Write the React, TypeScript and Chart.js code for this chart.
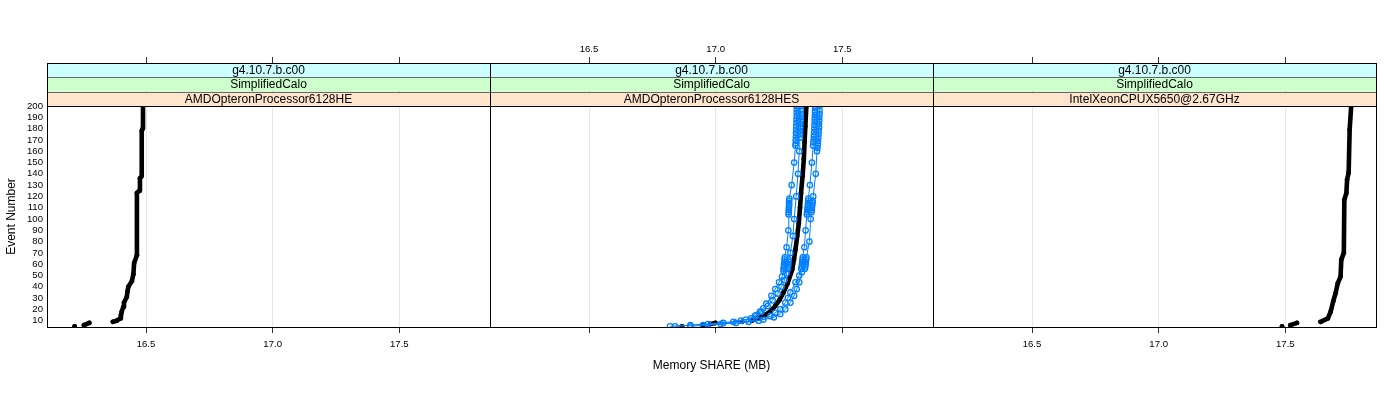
import React, { useEffect, useRef } from "react";
import { Chart, registerables } from "chart.js";

Chart.register(...registerables);

// ---------- data ----------
type Pt = [number, number]; // [event number, memory SHARE (MB)]

const STRIP_VERSION = ["g4.10.7.b.c00", "g4.10.7.b.c00", "g4.10.7.b.c00"];
const STRIP_TEST = ["SimplifiedCalo", "SimplifiedCalo", "SimplifiedCalo"];
const STRIP_CPU = [
  "AMDOpteronProcessor6128HE",
  "AMDOpteronProcessor6128HES",
  "IntelXeonCPUX5650@2.67GHz",
];

const X_TICKS = [16.5, 17.0, 17.5];
const Y_TICKS = [10, 20, 30, 40, 50, 60, 70, 80, 90, 100, 110, 120, 130, 140, 150, 160, 170, 180, 190, 200];
const X_MIN = 16.109;
const X_MAX = 17.858;
const Y_MIN = 4.4;
const Y_MAX = 200;

const X_TITLE = "Memory SHARE (MB)";
const Y_TITLE = "Event Number";

// Panel 1: AMDOpteronProcessor6128HE (reference, black)
const P1_BLACK: Pt[][] = [
  [[5, 16.218]],
  [[6, 16.255], [8, 16.276]],
  [
    [9, 16.369], [10, 16.385], [12, 16.398], [15, 16.401], [18, 16.404], [22, 16.41],
    [26, 16.413], [31, 16.424], [36, 16.427], [40, 16.43], [45, 16.444], [51, 16.45],
    [61, 16.453], [68, 16.464], [123, 16.464], [125, 16.474], [136, 16.476], [138, 16.483],
    [178, 16.483], [180, 16.487], [200, 16.488],
  ],
];

// Panel 2: AMDOpteronProcessor6128HES (black reference + blue runs)
const P2_BLACK: Pt[][] = [
  [[5, 16.867]],
  [[6, 16.95]],
  [[7, 16.979], [8, 16.999]],
  [[9, 17.104]],
  [
    [10, 17.143], [12, 17.165], [15, 17.195], [18, 17.215], [23, 17.235], [28, 17.251],
    [35, 17.268], [43, 17.284], [55, 17.302], [64, 17.309], [73, 17.315], [85, 17.322],
    [96, 17.328], [110, 17.333], [123, 17.337], [138, 17.343], [153, 17.348], [168, 17.351],
    [182, 17.354], [200, 17.358],
  ],
];

const P2_BLUE_1: Pt[] = [
  [5, 16.82], [6, 16.9], [8, 17.03], [10, 17.1], [12, 17.14], [15, 17.16], [18, 17.175],
  [21, 17.188], [25, 17.2], [32, 17.22], [38, 17.235], [44, 17.25], [49, 17.262], [54, 17.268],
  [56, 17.268], [58, 17.27], [60, 17.27], [62, 17.272], [64, 17.272], [66, 17.273], [75, 17.28],
  [90, 17.287], [104, 17.288], [106, 17.288], [108, 17.289], [110, 17.289], [112, 17.29],
  [114, 17.29], [116, 17.29], [118, 17.291], [130, 17.3], [150, 17.31], [165, 17.315],
  [167, 17.316], [170, 17.316], [173, 17.317], [176, 17.317], [179, 17.318], [182, 17.318],
  [185, 17.319], [188, 17.319], [191, 17.32], [194, 17.32], [197, 17.32], [200, 17.32],
];
const P2_BLUE_2: Pt[] = [
  [5, 16.84], [7, 16.97], [9, 17.07], [11, 17.12], [14, 17.155], [18, 17.18], [23, 17.205],
  [28, 17.225], [34, 17.245], [40, 17.26], [46, 17.272], [52, 17.28], [56, 17.285], [58, 17.285],
  [60, 17.287], [62, 17.287], [64, 17.288], [70, 17.295], [85, 17.305], [100, 17.31],
  [120, 17.318], [140, 17.325], [160, 17.33], [172, 17.332], [175, 17.333], [178, 17.333],
  [181, 17.334], [184, 17.334], [187, 17.335], [190, 17.335], [193, 17.336], [196, 17.336],
  [200, 17.337],
];
const P2_BLUE_3: Pt[] = [
  [5, 16.9], [7, 17.02], [9, 17.13], [11, 17.188], [14, 17.216], [17, 17.235], [20, 17.255],
  [26, 17.275], [30, 17.285], [35, 17.295], [44, 17.315], [50, 17.33], [56, 17.338], [58, 17.34],
  [60, 17.341], [62, 17.342], [64, 17.343], [66, 17.344], [75, 17.35], [90, 17.355], [104, 17.36],
  [106, 17.361], [108, 17.362], [110, 17.363], [112, 17.364], [114, 17.365], [116, 17.366],
  [118, 17.366], [130, 17.372], [150, 17.38], [165, 17.385], [168, 17.386], [171, 17.387],
  [174, 17.388], [177, 17.389], [180, 17.39], [183, 17.39], [186, 17.391], [189, 17.391],
  [192, 17.392], [195, 17.392], [198, 17.393], [200, 17.393],
];
const P2_BLUE_4: Pt[] = [
  [6, 16.95], [8, 17.08], [10, 17.17], [13, 17.23], [16, 17.255], [20, 17.275], [26, 17.295],
  [32, 17.31], [38, 17.32], [44, 17.33], [53, 17.341], [56, 17.352], [58, 17.354], [60, 17.355],
  [62, 17.356], [64, 17.357], [66, 17.358], [80, 17.37], [100, 17.375], [106, 17.378],
  [108, 17.379], [110, 17.38], [112, 17.381], [114, 17.382], [116, 17.383], [120, 17.385],
  [140, 17.395], [160, 17.4], [163, 17.402], [166, 17.403], [169, 17.404], [172, 17.405],
  [175, 17.406], [178, 17.407], [181, 17.408], [184, 17.408], [187, 17.409], [190, 17.409],
  [193, 17.41], [196, 17.41], [200, 17.41],
];

// Panel 3: IntelXeonCPUX5650@2.67GHz (reference, black)
const P3_BLACK: Pt[][] = [
  [[5, 17.487]],
  [[6, 17.52], [8, 17.546]],
  [
    [9, 17.639], [12, 17.668], [18, 17.679], [27, 17.689], [34, 17.698], [43, 17.707],
    [49, 17.718], [64, 17.721], [70, 17.731], [117, 17.733], [123, 17.741], [135, 17.744],
    [141, 17.75], [179, 17.754], [200, 17.76],
  ],
];

const PANELS = [
  { black: P1_BLACK, blue: [] as Pt[][] },
  { black: P2_BLACK, blue: [P2_BLUE_1, P2_BLUE_2, P2_BLUE_3, P2_BLUE_4] },
  { black: P3_BLACK, blue: [] as Pt[][] },
];

// ---------- layout / style ----------
const W = 1400;
const H = 400;
const PANEL_LEFT = [47, 490, 933];
const PANEL_RIGHT = [490, 933, 1376];
const PLOT_TOP = 106;
const PLOT_BOTTOM = 327;
const STRIP_H = 14.33;
const X_AXIS_H = 46;
const TOP_AXIS_H = 68;
const FONT = '"Liberation Sans", Arial, Helvetica, sans-serif';
const BLUE = "#0080FF";
const STRIP_COLORS = ["#FFE5CC", "#CCFFCC", "#CCFFFF"]; // bottom, middle, top

const toXY = (pts: Pt[]) => pts.map(([e, v]) => ({ x: v, y: e }));

function makeStripPlugin(i: number) {
  return {
    id: "strips" + i,
    afterDraw(chart: any) {
      const { ctx, chartArea } = chart;
      const { left, right, top, bottom } = chartArea;
      const texts = [STRIP_CPU[i], STRIP_TEST[i], STRIP_VERSION[i]];
      ctx.save();
      for (let k = 0; k < 3; k++) {
        const y1 = top - k * STRIP_H;
        const y0 = y1 - STRIP_H;
        ctx.fillStyle = STRIP_COLORS[k];
        ctx.fillRect(left, y0, right - left, STRIP_H);
        ctx.fillStyle = "#000";
        ctx.font = `12px ${FONT}`;
        ctx.textAlign = "center";
        ctx.textBaseline = "middle";
        ctx.fillText(texts[k], (left + right) / 2, (y0 + y1) / 2 + 0.5);
      }
      ctx.strokeStyle = "#666";
      ctx.lineWidth = 1;
      for (let k = 1; k < 3; k++) {
        const y = Math.round(top - k * STRIP_H) + 0.5;
        ctx.beginPath();
        ctx.moveTo(left, y);
        ctx.lineTo(right, y);
        ctx.stroke();
      }
      ctx.strokeStyle = "#000";
      ctx.beginPath();
      ctx.moveTo(left, Math.round(top) + 0.5);
      ctx.lineTo(right, Math.round(top) + 0.5);
      ctx.stroke();
      const st = Math.round(top - 3 * STRIP_H) + 0.5;
      ctx.strokeRect(Math.round(left) + 0.5, st, Math.round(right) - Math.round(left), Math.round(bottom) + 0.5 - st);
      ctx.restore();
    },
  };
}

export default function App() {
  const refs = [useRef<HTMLCanvasElement>(null), useRef<HTMLCanvasElement>(null), useRef<HTMLCanvasElement>(null)];

  useEffect(() => {
    Chart.defaults.font.family = FONT;
    const charts: Chart[] = [];
    PANELS.forEach((panel, i) => {
      const canvas = refs[i].current;
      if (!canvas) return;
      const datasets: any[] = [];
      panel.blue.forEach((s) => {
        datasets.push({
          data: toXY(s),
          showLine: true,
          borderColor: BLUE,
          borderWidth: 1,
          pointRadius: 2.7,
          pointBorderWidth: 1.3,
          pointBorderColor: BLUE,
          pointBackgroundColor: "rgba(0,0,0,0)",
        });
      });
      panel.black.forEach((seg) => {
        datasets.push({
          data: toXY(seg),
          showLine: true,
          borderColor: "#000",
          borderWidth: 4.6,
          borderCapStyle: "round",
          borderJoinStyle: "round",
          pointRadius: 2.4,
          pointBorderWidth: 0,
          pointBackgroundColor: "#000",
        });
      });
      const xTicks = (s: any) => {
        s.ticks = X_TICKS.map((v) => ({ value: v }));
      };
      const chart = new Chart(canvas, {
        type: "scatter",
        data: { datasets },
        plugins: [makeStripPlugin(i)],
        options: {
          responsive: false,
          animation: false,
          events: [],
          layout: {
            padding: {
              left: i === 0 ? 0 : PANEL_LEFT[i],
              right: W - PANEL_RIGHT[i],
              top: PLOT_TOP - TOP_AXIS_H,
              bottom: H - PLOT_BOTTOM - X_AXIS_H,
            },
          },
          plugins: { legend: { display: false }, tooltip: { enabled: false } },
          scales: {
            x: {
              type: "linear",
              position: "bottom",
              min: X_MIN,
              max: X_MAX,
              afterBuildTicks: xTicks,
              afterFit: (s: any) => {
                s.height = X_AXIS_H;
              },
              grid: {
                display: true,
                drawOnChartArea: true,
                color: "#E6E6E6",
                tickColor: "#333",
                tickLength: 6,
                lineWidth: 1,
              },
              border: { display: false },
              ticks: {
                color: i === 1 ? "rgba(0,0,0,0)" : "#000",
                padding: 5.5,
                font: { size: 9.6 },
                maxRotation: 0,
                autoSkip: false,
                callback: (v: any) => Number(v).toFixed(1),
              },
              title: {
                display: i === 1,
                text: X_TITLE,
                color: "#000",
                font: { size: 12 },
                padding: 0,
              },
            },
            xTop: {
              type: "linear",
              axis: "x",
              position: "top",
              min: X_MIN,
              max: X_MAX,
              afterBuildTicks: xTicks,
              afterFit: (s: any) => {
                s.height = TOP_AXIS_H;
              },
              grid: {
                display: true,
                drawOnChartArea: false,
                tickColor: "#333",
                tickLength: 49,
              },
              border: { display: false },
              ticks: {
                color: i === 1 ? "#000" : "rgba(0,0,0,0)",
                padding: 2,
                font: { size: 9.6 },
                maxRotation: 0,
                autoSkip: false,
                callback: (v: any) => Number(v).toFixed(1),
              },
            },
            y: {
              type: "linear",
              display: i === 0,
              min: Y_MIN,
              max: Y_MAX,
              afterBuildTicks: (s: any) => {
                s.ticks = Y_TICKS.map((v) => ({ value: v }));
              },
              afterFit: (s: any) => {
                s.width = i === 0 ? PANEL_LEFT[0] : 0;
              },
              grid: { display: false, drawTicks: false },
              border: { display: false },
              ticks: {
                color: "#000",
                padding: 4,
                font: { size: 9.6 },
                autoSkip: false,
              },
              title: {
                display: true,
                text: Y_TITLE,
                color: "#000",
                font: { size: 12 },
                padding: { top: 4, bottom: 0 },
              },
            },
          },
        } as any,
      });
      charts.push(chart);
    });
    return () => charts.forEach((c) => c.destroy());
  }, []);

  return (
    <div style={{ position: "absolute", left: 0, top: 0, width: W, height: H, background: "#fff" }}>
      {refs.map((r, i) => (
        <canvas
          key={i}
          ref={r}
          width={W}
          height={H}
          style={{ position: "absolute", left: 0, top: 0, width: W, height: H }}
        />
      ))}
    </div>
  );
}
